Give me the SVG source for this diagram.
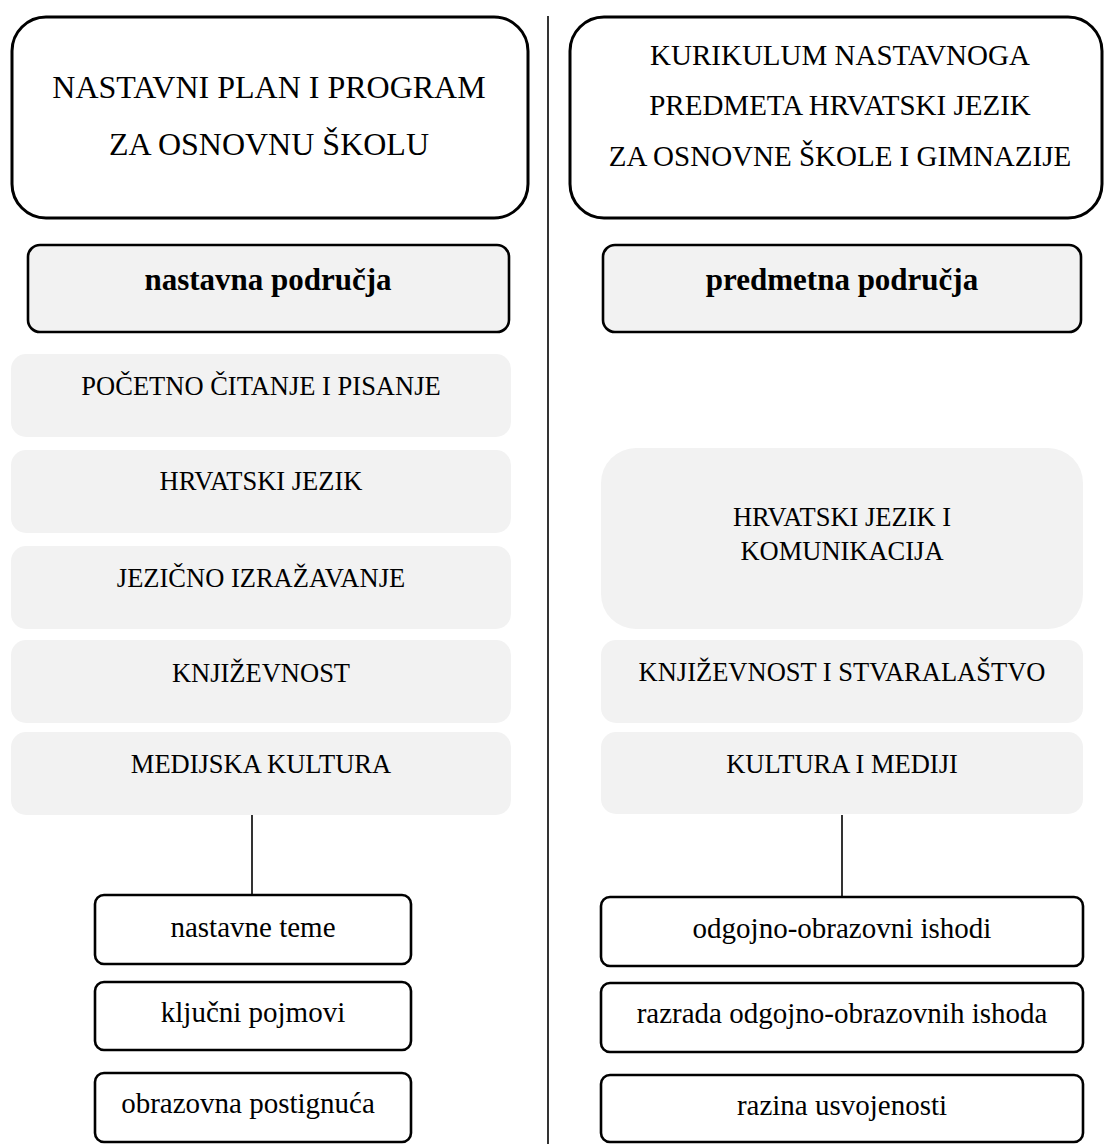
<svg xmlns="http://www.w3.org/2000/svg" width="1104" height="1144" viewBox="0 0 1104 1144">
<style>
  text { font-family: "Liberation Serif", "Times New Roman", serif; fill: #000; text-anchor: middle; }
  .title { fill: #fff; stroke: #000; stroke-width: 3; }
  .head { fill: #f2f2f2; stroke: #000; stroke-width: 2.6; }
  .area { fill: #f2f2f2; stroke: none; }
  .item { fill: #fff; stroke: #000; stroke-width: 2.6; }
  .t1 { font-size: 32px; }
  .t2 { font-size: 29px; }
  .th { font-size: 31px; font-weight: bold; }
  .ta { font-size: 26.5px; }
  .ti { font-size: 29px; }
  .conn { stroke: #000; stroke-width: 1.6; fill: none; }
</style>
<rect width="1104" height="1144" fill="#fff"/>

<g id="connectors">
  <line class="conn" x1="548" y1="16" x2="548" y2="1144"/>
  <line class="conn" x1="252" y1="815" x2="252" y2="895"/>
  <line class="conn" x1="842" y1="815" x2="842" y2="897"/>
</g>

<g id="title-left">
  <rect class="title" x="12" y="17" width="516" height="201" rx="34"/>
  <text class="t1" x="269" y="98">NASTAVNI PLAN I PROGRAM</text>
  <text class="t1" x="269" y="155">ZA OSNOVNU ŠKOLU</text>
</g>
<g id="title-right">
  <rect class="title" x="570" y="17" width="532" height="201" rx="34"/>
  <text class="t2" x="840" y="65">KURIKULUM NASTAVNOGA</text>
  <text class="t2" x="840" y="115">PREDMETA HRVATSKI JEZIK</text>
  <text class="t2" x="840" y="166">ZA OSNOVNE ŠKOLE I GIMNAZIJE</text>
</g>

<g id="head-left">
  <rect class="head" x="28" y="245" width="481" height="87" rx="12"/>
  <text class="th" x="268" y="290">nastavna područja</text>
</g>
<g id="head-right">
  <rect class="head" x="603" y="245" width="478" height="87" rx="12"/>
  <text class="th" x="842" y="290">predmetna područja</text>
</g>

<g id="area-l1">
  <rect class="area" x="11" y="354" width="500" height="83" rx="15"/>
  <text class="ta" x="261" y="395">POČETNO ČITANJE I PISANJE</text>
</g>
<g id="area-l2">
  <rect class="area" x="11" y="450" width="500" height="83" rx="15"/>
  <text class="ta" x="261" y="490">HRVATSKI JEZIK</text>
</g>
<g id="area-l3">
  <rect class="area" x="11" y="546" width="500" height="83" rx="15"/>
  <text class="ta" x="261" y="587">JEZIČNO IZRAŽAVANJE</text>
</g>
<g id="area-l4">
  <rect class="area" x="11" y="640" width="500" height="83" rx="15"/>
  <text class="ta" x="261" y="682">KNJIŽEVNOST</text>
</g>
<g id="area-l5">
  <rect class="area" x="11" y="732" width="500" height="83" rx="15"/>
  <text class="ta" x="261" y="773">MEDIJSKA KULTURA</text>
</g>

<g id="area-r1">
  <rect class="area" x="601" y="448" width="482" height="181" rx="35"/>
  <text class="ta" x="842" y="526">HRVATSKI JEZIK I</text>
  <text class="ta" x="842" y="560">KOMUNIKACIJA</text>
</g>
<g id="area-r2">
  <rect class="area" x="601" y="640" width="482" height="83" rx="15"/>
  <text class="ta" x="842" y="681">KNJIŽEVNOST I STVARALAŠTVO</text>
</g>
<g id="area-r3">
  <rect class="area" x="601" y="732" width="482" height="82" rx="15"/>
  <text class="ta" x="842" y="773">KULTURA I MEDIJI</text>
</g>

<g id="item-l1">
  <rect class="item" x="95" y="895" width="316" height="69" rx="9"/>
  <text class="ti" x="253" y="937">nastavne teme</text>
</g>
<g id="item-l2">
  <rect class="item" x="95" y="982" width="316" height="68" rx="9"/>
  <text class="ti" x="253" y="1022">ključni pojmovi</text>
</g>
<g id="item-l3">
  <rect class="item" x="95" y="1073" width="316" height="69" rx="9"/>
  <text class="ti" x="248" y="1113">obrazovna postignuća</text>
</g>

<g id="item-r1">
  <rect class="item" x="601" y="897" width="482" height="69" rx="9"/>
  <text class="ti" x="842" y="938">odgojno-obrazovni ishodi</text>
</g>
<g id="item-r2">
  <rect class="item" x="601" y="983" width="482" height="69" rx="9"/>
  <text class="ti" x="842" y="1023">razrada odgojno-obrazovnih ishoda</text>
</g>
<g id="item-r3">
  <rect class="item" x="601" y="1075" width="482" height="67" rx="9"/>
  <text class="ti" x="842" y="1115">razina usvojenosti</text>
</g>
</svg>
